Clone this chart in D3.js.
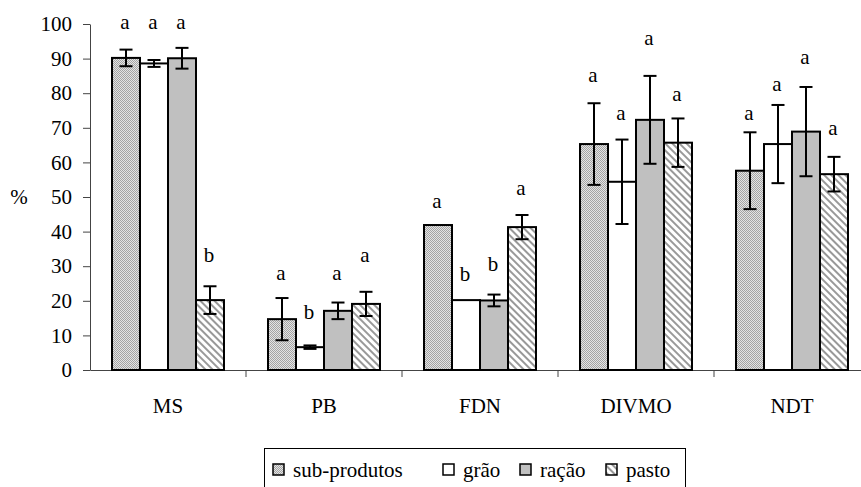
<!DOCTYPE html>
<html>
<head>
<meta charset="utf-8">
<script src="https://cdn.jsdelivr.net/npm/d3@7"></script>
</head>
<body style="margin:0">
<script>
// dados
const categorias = ["MS", "PB", "FDN", "DIVMO", "NDT"];
const series = ["sub-produtos", "grão", "ração", "pasto"];

// médias por série (ordem das categorias)
const subProdutos = [90.2, 14.7, 41.9, 65.3, 57.6];
const grao        = [88.6, 6.6, 20.2, 54.4, 65.3];
const racao       = [90.1, 17.1, 20.1, 72.3, 68.9];
const pasto       = [20.2, 19.1, 41.3, 65.7, 56.6];

// desvio (barra de erro)
const errSub   = [2.4, 6.1, 0, 11.8, 11.1];
const errGrao  = [1.0, 0.5, 0, 12.2, 11.3];
const errRacao = [3.0, 2.4, 1.7, 12.7, 12.9];
const errPasto = [4.0, 3.5, 3.5, 7.0, 5.0];

// letras (teste de médias) e altura onde aparecem (valor no eixo)
const letras = [
  ["a", "a", "a", "b"],
  ["a", "b", "a", "a"],
  ["a", "b", "b", "a"],
  ["a", "a", "a", "a"],
  ["a", "a", "a", "a"]
];
const letraY = [
  [98.5, 98.5, 98.5, 31.2],
  [26.0, 14.7, 26.0, 31.2],
  [46.8, 25.7, 28.6, 50.6],
  [83.2, 72.3, 93.9, 77.7],
  [72.3, 80.6, 88.4, 67.9]
];

const yTicks = d3.range(0, 101, 10);

const valores = [subProdutos, grao, racao, pasto];
const erros = [errSub, errGrao, errRacao, errPasto];

const width = 861, height = 487;
const fontSize = "21px";
const fonte = '"Liberation Serif"';

const svg = d3.select("body")
  .append("svg")
  .attr("width", width)
  .attr("height", height);

// padrões de preenchimento
const defs = svg.append("defs");
const dots = defs.append("pattern")
  .attr("id", "pat-sub")
  .attr("patternUnits", "userSpaceOnUse")
  .attr("width", 2).attr("height", 2);
dots.append("rect").attr("width", 2).attr("height", 2).attr("fill", "#e4e4e4");
dots.append("rect").attr("width", 1).attr("height", 1).attr("fill", "#a4a4a4");
dots.append("rect").attr("x", 1).attr("y", 1).attr("width", 1).attr("height", 1).attr("fill", "#a4a4a4");

const hatch = defs.append("pattern")
  .attr("id", "pat-pasto")
  .attr("patternUnits", "userSpaceOnUse")
  .attr("width", 5).attr("height", 5)
  .attr("patternTransform", "rotate(45)");
hatch.append("rect").attr("width", 5).attr("height", 5).attr("fill", "#fff");
hatch.append("rect").attr("width", 5).attr("height", 2).attr("fill", "#999");

const fills = ["url(#pat-sub)", "#ffffff", "#c0c0c0", "url(#pat-pasto)"];

// escalas
const y = d3.scaleLinear().domain([0, 100]).range([370, 24]);
const x0 = d3.scaleBand().domain(categorias).range([90, 870]).padding(0);
const x1 = d3.scaleBand().domain(series).range([0, x0.bandwidth()])
  .paddingInner(0).paddingOuter(0.786);

// texto com a fonte serifada
function serif(sel) {
  return sel
    .attr("font-family", "Liberation Serif")
    .style("font-family", fonte)
    .style("font-size", fontSize)
    .attr("fill", "#000");
}

// eixo Y
const yAxis = svg.append("g")
  .attr("transform", `translate(${x0.range()[0]},0)`)
  .call(d3.axisLeft(y).tickValues(yTicks).tickSize(7).tickSizeOuter(0).tickPadding(11))
  .attr("font-family", "Liberation Serif");
yAxis.select(".domain").attr("stroke", "#444");
yAxis.selectAll(".tick line").attr("stroke", "#444");
yAxis.selectAll("text").call(serif);

// eixo X
const xAxis = svg.append("g")
  .attr("transform", `translate(0,${y(0)})`)
  .call(d3.axisBottom(x0).tickSize(0).tickSizeOuter(0).tickPadding(28))
  .attr("font-family", "Liberation Serif");
xAxis.select(".domain").attr("stroke", "#444");
xAxis.selectAll("text").call(serif);

// marcas entre categorias
xAxis.selectAll(".sep")
  .data(categorias)
  .join("line")
    .attr("class", "sep")
    .attr("x1", d => x0(d) + x0.bandwidth())
    .attr("x2", d => x0(d) + x0.bandwidth())
    .attr("y1", 0).attr("y2", 7)
    .attr("stroke", "#444");

// rótulo %
svg.append("text")
  .attr("x", 19)
  .attr("y", y(50) + 7)
  .attr("text-anchor", "middle")
  .call(serif)
  .text("%");

// dados achatados
const pontos = [];
categorias.forEach((c, i) => {
  series.forEach((s, j) => {
    pontos.push({
      cat: c, serie: s, j: j,
      v: valores[j][i], e: erros[j][i],
      letra: letras[i][j], ly: letraY[i][j]
    });
  });
});

// barras
svg.append("g")
  .selectAll("rect")
  .data(pontos)
  .join("rect")
    .attr("x", d => x0(d.cat) + x1(d.serie))
    .attr("y", d => y(d.v))
    .attr("width", x1.bandwidth())
    .attr("height", d => y(0) - y(d.v))
    .attr("fill", d => fills[d.j])
    .attr("stroke", "#000")
    .attr("stroke-width", 2);

// barras de erro
const eb = svg.append("g")
  .selectAll("g")
  .data(pontos.filter(d => d.e > 0))
  .join("g")
    .attr("stroke", "#000")
    .attr("stroke-width", 2);
const cx = d => x0(d.cat) + x1(d.serie) + x1.bandwidth() / 2;
eb.append("line")
  .attr("x1", cx).attr("x2", cx)
  .attr("y1", d => y(d.v + d.e)).attr("y2", d => y(d.v - d.e));
eb.append("line")
  .attr("x1", d => cx(d) - 6.5).attr("x2", d => cx(d) + 6.5)
  .attr("y1", d => y(d.v + d.e)).attr("y2", d => y(d.v + d.e));
eb.append("line")
  .attr("x1", d => cx(d) - 6.5).attr("x2", d => cx(d) + 6.5)
  .attr("y1", d => y(d.v - d.e)).attr("y2", d => y(d.v - d.e));

// letras
svg.append("g")
  .selectAll("text")
  .data(pontos)
  .join("text")
    .attr("x", d => cx(d) - 1)
    .attr("y", d => y(d.ly))
    .attr("text-anchor", "middle")
    .call(serif)
    .text(d => d.letra);

// legenda
const leg = svg.append("g");
leg.append("rect")
  .attr("x", 264.5).attr("y", 448.5)
  .attr("width", 421).attr("height", 50)
  .attr("fill", "#fff")
  .attr("stroke", "#000");

const legX = [273, 443, 520, 606];
const item = leg.selectAll(".item")
  .data(series)
  .join("g")
    .attr("class", "item")
    .attr("transform", (d, i) => `translate(${legX[i]},464)`);
item.append("rect")
  .attr("width", 11).attr("height", 11)
  .attr("fill", (d, i) => fills[i])
  .attr("stroke", "#000")
  .attr("stroke-width", 1.5);
item.append("text")
  .attr("x", 20)
  .attr("y", 13)
  .call(serif)
  .text(d => d);
</script>
</body>
</html>
